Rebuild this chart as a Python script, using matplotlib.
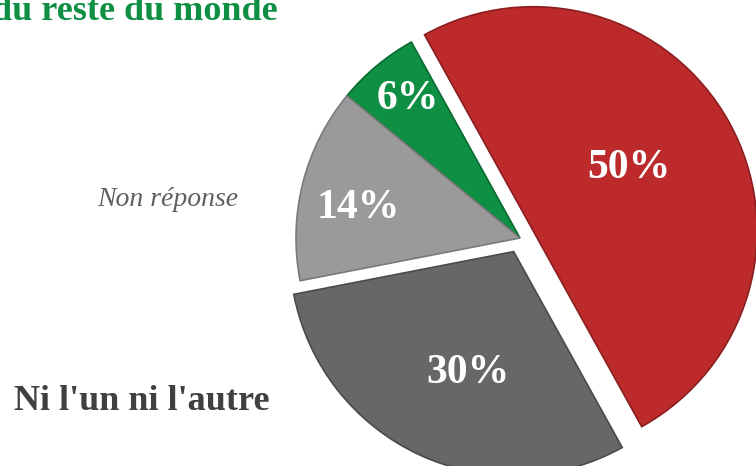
import numpy as np
import matplotlib.pyplot as plt

# données du graphique
categories = ["Reste du monde", "Non réponse", "Ni l'un ni l'autre", "Autre"]
valeurs = [6, 14, 30, 50]
etiquettes_gauche = ["du reste du monde", "Non réponse", "Ni l'un ni l'autre"]

couleurs = ['#0E8F43', '#9A9A9A', '#676767', '#BC2A2C']
bords = ['#0A6A31', '#7A7A7A', '#4A4A4A', '#8A1E20']
eclate = [0, 0, 15, 15]
dist_pct = [0.80, 0.736, 0.58, 0.51]
decal_angle = [-0.9, 3.7, 4.4, 4.5]

fig = plt.figure(figsize=(7.56, 4.66), dpi=100)
ax = fig.add_axes([0, 0, 1, 1])

wedges, texts, autotexts = ax.pie(
    valeurs, colors=couleurs, explode=eclate, startangle=119,
    counterclock=True, center=(520, 228), radius=224,
    autopct='%d%%', frame=True,
    wedgeprops=dict(linewidth=1.2),
    textprops=dict(color='white', fontsize=30, fontweight='bold',
                   family='Liberation Serif'))

# position des pourcentages dans chaque part
for w, t, d, da, ec in zip(wedges, autotexts, dist_pct, decal_angle, bords):
    w.set_edgecolor(ec)
    th = np.deg2rad((w.theta1 + w.theta2) / 2 + da)
    cx, cy = w.center
    t.set_position((cx + d * w.r * np.cos(th), cy + d * w.r * np.sin(th)))

ax.set_xlim(0, 756)
ax.set_ylim(0, 466)
ax.set_aspect('equal')
ax.axis('off')

# le titre vert est coupé au bord gauche, comme dans l'original
ax.text(278, 466 - 12, etiquettes_gauche[0], ha='right', va='center',
        fontsize=26, fontweight='bold', color='#0E8F43', family='Liberation Serif')
ax.text(238, 466 - 199, etiquettes_gauche[1], ha='right', va='center',
        fontsize=20, style='italic', color='#606060', family='Liberation Serif')
ax.text(270, 466 - 402, etiquettes_gauche[2], ha='right', va='center',
        fontsize=26, fontweight='bold', color='#404040', family='Liberation Serif')

fig.savefig('out.png', dpi=100)
